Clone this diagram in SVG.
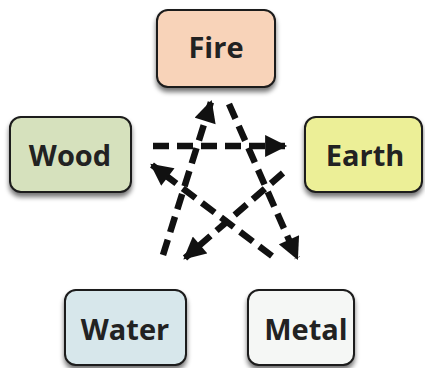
<svg xmlns="http://www.w3.org/2000/svg" width="425" height="368" viewBox="0 0 425 368">
  <defs>
    <filter id="shadow" x="-20%" y="-20%" width="140%" height="150%">
      <feGaussianBlur in="SourceAlpha" stdDeviation="2.5"/>
      <feOffset dx="0" dy="4" result="b"/>
      <feComponentTransfer><feFuncA type="linear" slope="0.55"/></feComponentTransfer>
      <feMerge><feMergeNode/><feMergeNode in="SourceGraphic"/></feMerge>
    </filter>
    <marker id="head" viewBox="0 0 10 10" refX="9" refY="5" markerWidth="3.6" markerHeight="3.4" orient="auto" markerUnits="strokeWidth">
      <path d="M0,0 L10,5 L0,10 Z" fill="#111"/>
    </marker>
  </defs>
  <style>
    .box { stroke: #1a1a1a; stroke-width: 2; filter: url(#shadow); }
    .label { font-family: "Open Sans", "Liberation Sans", sans-serif; font-weight: bold; font-size: 29px; fill: #222; text-anchor: middle; }
    .flow { stroke: #111; stroke-width: 6.5; stroke-dasharray: 16 8; fill: none; marker-end: url(#head); }
  </style>

  <g id="connectors">
    <line class="flow" x1="153" y1="146" x2="285" y2="146"/>
    <line class="flow" x1="163" y1="255" x2="211" y2="102"/>
    <line class="flow" x1="229" y1="104" x2="297" y2="258"/>
    <line class="flow" x1="283" y1="173" x2="185" y2="258"/>
    <line class="flow" x1="272" y1="256" x2="152" y2="165"/>
  </g>

  <g id="fire">
    <rect class="box" x="157" y="10" width="118" height="77" rx="11" fill="#f8d3b9"/>
    <text class="label" x="216" y="58">Fire</text>
  </g>
  <g id="wood">
    <rect class="box" x="10" y="117" width="121" height="75" rx="11" fill="#d6e1bd"/>
    <text class="label" x="70" y="166">Wood</text>
  </g>
  <g id="earth">
    <rect class="box" x="305" y="117" width="117" height="75" rx="11" fill="#ecef97"/>
    <text class="label" x="365" y="166">Earth</text>
  </g>
  <g id="water">
    <rect class="box" x="65" y="290" width="121" height="75" rx="11" fill="#d7e7eb"/>
    <text class="label" x="125" y="340">Water</text>
  </g>
  <g id="metal">
    <rect class="box" x="248" y="290" width="106" height="75" rx="11" fill="#f5f7f5"/>
    <text class="label" x="306" y="340">Metal</text>
  </g>
</svg>
